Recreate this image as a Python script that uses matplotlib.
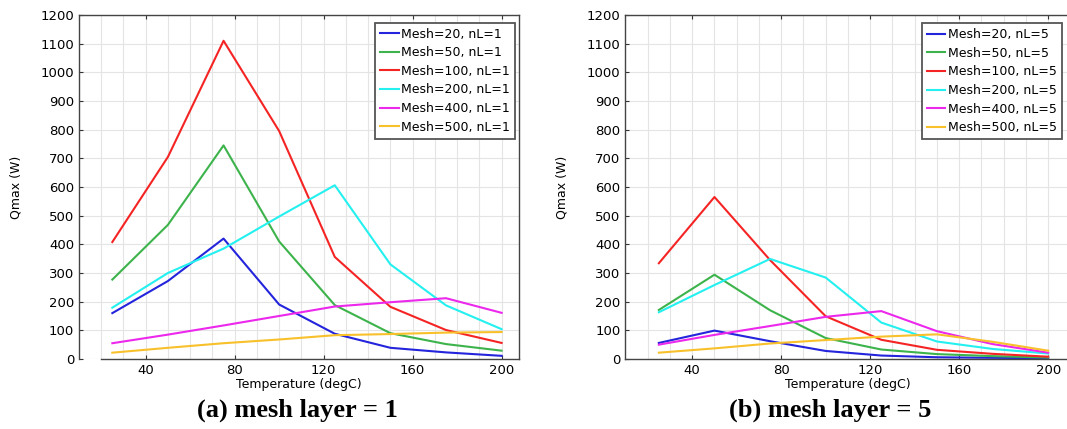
import matplotlib
matplotlib.use("Agg")
import matplotlib.pyplot as plt

# temperatures (degC) where Qmax was evaluated
temps = [25, 50, 75, 100, 125, 150, 175, 200]
meshes = [20, 50, 100, 200, 400, 500]

# Qmax (W), mesh layer = 1
q_nl1_m20 = [160, 272, 420, 190, 88, 39, 23, 11]
q_nl1_m50 = [277, 468, 745, 410, 188, 90, 52, 29]
q_nl1_m100 = [408, 705, 1110, 795, 356, 182, 101, 56]
q_nl1_m200 = [179, 300, 385, 497, 606, 330, 187, 104]
q_nl1_m400 = [55, 85, 117, 150, 183, 198, 212, 161]
q_nl1_m500 = [22, 39, 55, 68, 83, 87, 92, 94]

# Qmax (W), mesh layer = 5
q_nl5_m20 = [56, 99, 62, 28, 12, 6, 4, 3]
q_nl5_m50 = [171, 294, 170, 73, 33, 17, 10, 5]
q_nl5_m100 = [334, 565, 345, 149, 67, 32, 18, 8]
q_nl5_m200 = [163, 258, 349, 284, 127, 61, 35, 19]
q_nl5_m400 = [50, 84, 115, 147, 167, 97, 52, 22]
q_nl5_m500 = [22, 37, 54, 66, 78, 86, 60, 29]

colors = ["#2424dc", "#3db34b", "#f52424", "#24f0f0", "#ec28ec", "#f8c02a"]

panels = [
    ([q_nl1_m20, q_nl1_m50, q_nl1_m100, q_nl1_m200, q_nl1_m400, q_nl1_m500], 1,
     "(a) mesh layer = 1"),
    ([q_nl5_m20, q_nl5_m50, q_nl5_m100, q_nl5_m200, q_nl5_m400, q_nl5_m500], 5,
     "(b) mesh layer = 5"),
]

fig = plt.figure(figsize=(10.67, 4.29), dpi=100)
ax_rects = [
    [0.0740, 0.1632, 0.4128, 0.8019],
    [0.5862, 0.1632, 0.4170, 0.8019],
]
xlims = [(10, 208), (10, 210)]
leg_anchor = [(0.990, 0.978), (0.981, 0.976)]
ylabel_x = [-0.128, -0.128]
caption_x = [0.279, 0.778]

for i, (series, nl, caption) in enumerate(panels):
    ax = fig.add_axes(ax_rects[i])
    for mesh, q, c in zip(meshes, series, colors):
        ax.plot(temps, q, color=c, lw=1.5, label=f"Mesh={mesh}, nL={nl}")
    ax.set_xlim(*xlims[i])
    ax.set_ylim(0, 1200)
    ax.set_xticks([40, 80, 120, 160, 200])
    ax.set_xticks(range(20, 210, 10), minor=True)
    ax.set_yticks(range(0, 1201, 100))
    ax.grid(True, which="both", color="#e4e4e4", lw=0.8)
    ax.set_axisbelow(True)
    ax.tick_params(axis="both", which="major", direction="in", top=True,
                   labelsize=9.5, length=3, color="#333333")
    ax.tick_params(axis="both", which="minor", length=0)
    for sp in ax.spines.values():
        sp.set_color("#444444")
        sp.set_linewidth(1.0)
    if i == 0:
        ax.spines["bottom"].set_bounds(20, 208)
    ax.set_xlabel("Temperature (degC)", fontsize=9, labelpad=1)
    ax.set_ylabel("Qmax (W)", fontsize=9)
    ax.yaxis.set_label_coords(ylabel_x[i], 0.5)
    leg = ax.legend(loc="upper right", bbox_to_anchor=leg_anchor[i],
                    borderaxespad=0, fontsize=9, handlelength=1.5,
                    handletextpad=0.2, labelspacing=0.45, fancybox=False,
                    framealpha=1, borderpad=0.4)
    leg.get_frame().set_edgecolor("#555555")
    leg.get_frame().set_linewidth(1.3)
    fig.text(caption_x[i], 0.044, caption, ha="center", va="center",
             family="Liberation Serif", fontweight="bold", fontsize=19)

fig.savefig("out.png", dpi=100)
